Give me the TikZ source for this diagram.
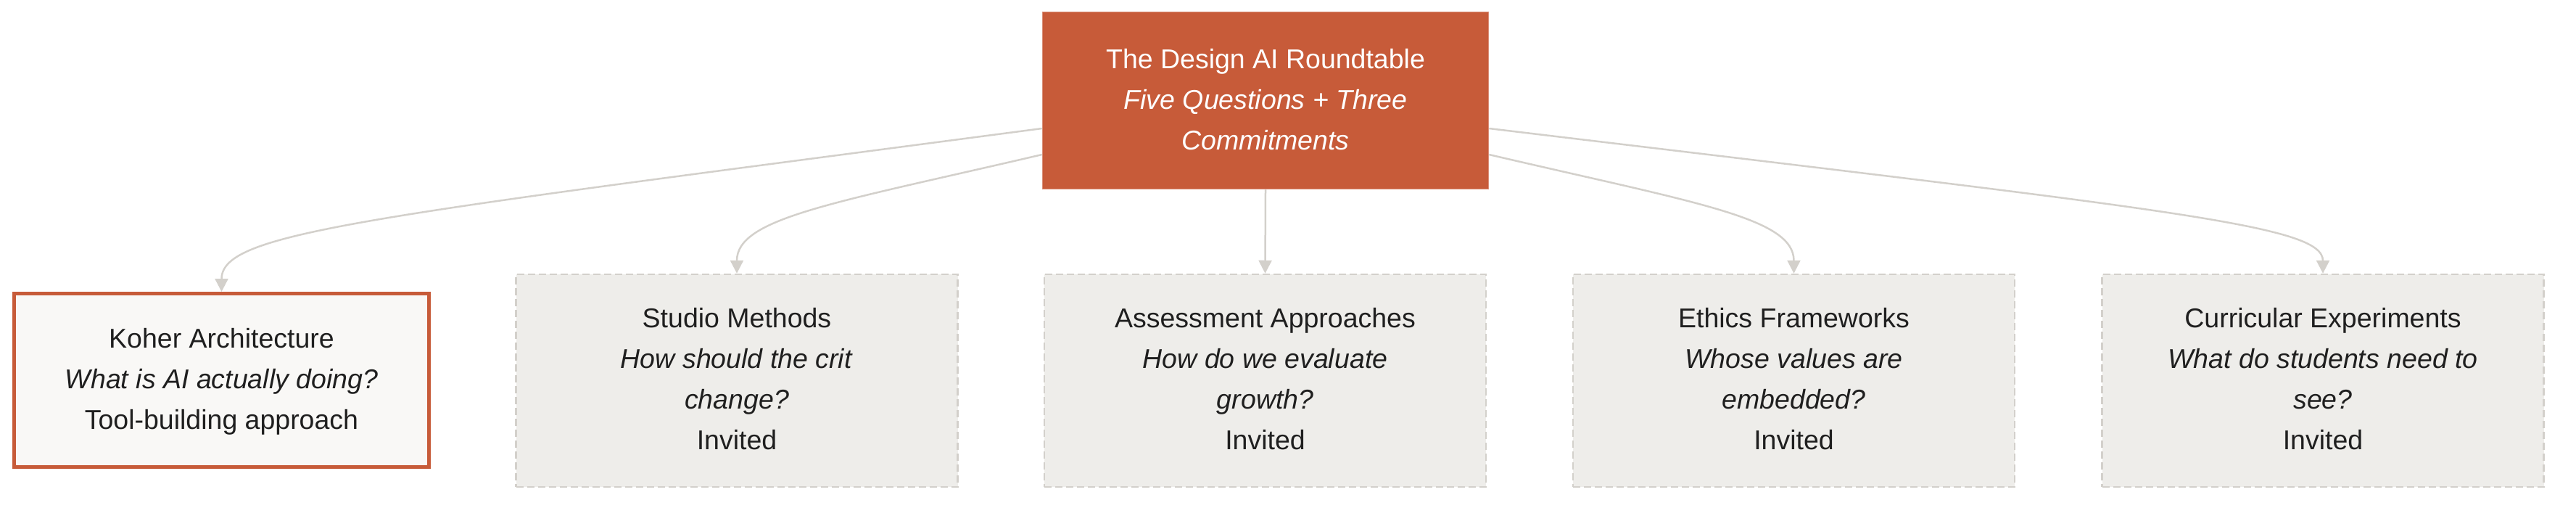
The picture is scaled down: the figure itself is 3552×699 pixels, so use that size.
\documentclass[tikz,border=0pt]{standalone}
\usepackage{fontspec}
\setmainfont{Liberation Sans}
\usetikzlibrary{arrows.meta}
\definecolor{rust}{HTML}{C75B39}
\definecolor{rustedge}{HTML}{D98E77}
\definecolor{paper}{HTML}{F9F8F6}
\definecolor{invfill}{HTML}{EEEDEA}
\definecolor{invline}{HTML}{D3D0CB}
\definecolor{ink}{HTML}{1F1F1F}
\begin{document}
\begin{tikzpicture}[x=1pt,y=-1pt,
  base/.style={rectangle, inner sep=0pt, align=center, font=\fontsize{37.5}{56}\selectfont},
  topbox/.style={base, fill=rust, draw=rustedge, line width=1.5pt, text=white,
    minimum width=615pt, minimum height=244pt, text depth=4pt},
  leadbox/.style={base, fill=paper, draw=rust, line width=5pt, text=ink,
    minimum width=572pt, minimum height=239pt, text depth=4pt},
  invbox/.style={base, fill=invfill, draw=invline, line width=2.5pt,
    dash pattern=on 10pt off 5pt, text=ink,
    minimum width=609pt, minimum height=293pt, text depth=5pt},
  link/.style={draw=invline, line width=2.5pt, -{Triangle[length=18pt,width=18pt]}}
]
\useasboundingbox (0,0) rectangle (3552,699);

\node[topbox] (top) at (1745,138.5)
  {The Design AI Roundtable\\\textit{Five Questions + Three}\\\textit{Commitments}};

\node[leadbox] (lead) at (305.5,524)
  {Koher Architecture\\\textit{What is AI actually doing?}\\Tool-building approach};
\node[invbox] (studio) at (1016,524.5)
  {Studio Methods\\\textit{How should the crit}\\\textit{change?}\\Invited};
\node[invbox] (assess) at (1744.5,524.5)
  {Assessment Approaches\\\textit{How do we evaluate}\\\textit{growth?}\\Invited};
\node[invbox] (ethics) at (2473.5,524.5)
  {Ethics Frameworks\\\textit{Whose values are}\\\textit{embedded?}\\Invited};
\node[invbox] (curr) at (3203,524.5)
  {Curricular Experiments\\\textit{What do students need to}\\\textit{see?}\\Invited};

\draw[link] ([yshift=-38.5pt]top.west) .. controls (500,300) and (305.5,320) .. (lead.north);
\draw[link] ([yshift=-74.5pt]top.west) .. controls (1150,280) and (1016,300) .. (studio.north);
\draw[link] (top.south) -- (assess.north);
\draw[link] ([yshift=-74.5pt]top.east) .. controls (2340,280) and (2473.5,300) .. (ethics.north);
\draw[link] ([yshift=-38.5pt]top.east) .. controls (3000,290) and (3203,310) .. (curr.north);
\end{tikzpicture}
\end{document}
